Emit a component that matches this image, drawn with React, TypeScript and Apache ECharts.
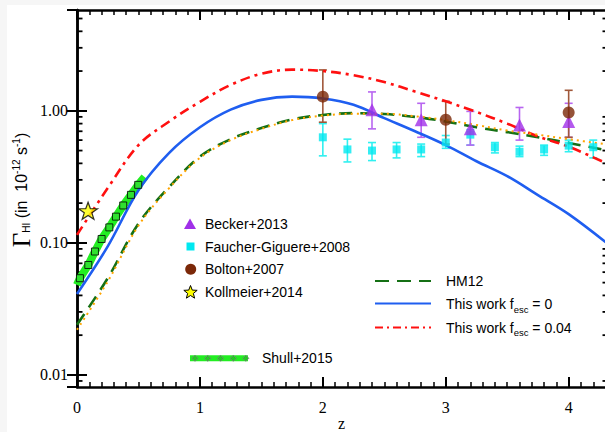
import React, { useEffect, useRef } from "react";
import * as echarts from "echarts";

// ---------- data ----------
const zGrid = [0, 0.25, 0.5, 0.75, 1.0, 1.25, 1.5, 1.75, 2.0, 2.25, 2.5, 2.75, 3.0, 3.25, 3.5, 3.75, 4.0, 4.32];
const hm12 = [0.024, 0.054, 0.14, 0.265, 0.45, 0.61, 0.74, 0.86, 0.93, 0.96, 0.945, 0.9, 0.83, 0.75, 0.69, 0.63, 0.57, 0.5];
const hm12Dotted = [0.022, 0.051, 0.135, 0.26, 0.44, 0.6, 0.73, 0.85, 0.92, 0.95, 0.95, 0.91, 0.85, 0.78, 0.71, 0.66, 0.61, 0.555];
const fesc0 = [0.041, 0.094, 0.25, 0.48, 0.75, 1.02, 1.21, 1.28, 1.24, 1.11, 0.88, 0.7, 0.55, 0.415, 0.32, 0.23, 0.165, 0.098];
const fesc004 = [0.115, 0.26, 0.55, 0.83, 1.17, 1.57, 1.91, 2.05, 2.0, 1.86, 1.65, 1.4, 1.18, 0.98, 0.8, 0.64, 0.535, 0.395];

const beckerZ = [2.4, 2.8, 3.2, 3.6, 4.0];
const beckerG = [1.02, 0.855, 0.73, 0.78, 0.83];
const beckerLo = [0.73, 0.63, 0.55, 0.6, 0.63];
const beckerHi = [1.39, 1.14, 0.99, 1.06, 1.14];

const faucherZ = [2.0, 2.2, 2.4, 2.6, 2.8, 3.0, 3.2, 3.4, 3.6, 3.8, 4.0, 4.2];
const faucherG = [0.63, 0.51, 0.5, 0.51, 0.51, 0.575, 0.66, 0.53, 0.49, 0.51, 0.545, 0.53];
const faucherLo = [0.456, 0.41, 0.42, 0.44, 0.45, 0.52, 0.55, 0.48, 0.45, 0.46, 0.49, 0.44];
const faucherHi = [0.8, 0.61, 0.575, 0.575, 0.56, 0.65, 0.72, 0.575, 0.54, 0.55, 0.6, 0.6];

const boltonZ = [2.0, 3.0, 4.0];
const boltonG = [1.28, 0.855, 0.97];
const boltonLo = [0.82, 0.56, 0.63];
const boltonHi = [2.04, 1.18, 1.43];

const kollmeierZ = [0.09];
const kollmeierG = [0.175];

const shullBandZ = [0, 0.024, 0.092, 0.146, 0.2, 0.263, 0.317, 0.376, 0.439, 0.498, 0.55];
const shullBandG = [0.048, 0.054, 0.068, 0.086, 0.107, 0.131, 0.158, 0.192, 0.231, 0.275, 0.315];
const shullZ = [0.024, 0.092, 0.146, 0.2, 0.263, 0.317, 0.376, 0.439, 0.498];
const shullG = [0.054, 0.068, 0.086, 0.107, 0.131, 0.158, 0.192, 0.231, 0.275];

const X_MIN = 0;
const X_MAX = 4.32;
const Y_MIN = 0.0081;
const Y_MAX = 5.8;
const yMinorTicks = [0.009, 0.02, 0.03, 0.04, 0.05, 0.06, 0.07, 0.08, 0.09, 0.2, 0.3, 0.4, 0.5, 0.6, 0.7, 0.8, 0.9, 2, 3, 4, 5];

// ---------- helpers ----------
const SERIF = "'Liberation Serif', 'Times New Roman', serif";
const SANS = "'Liberation Sans', Arial, sans-serif";

function starPts(cx: number, cy: number, R: number, r: number): number[][] {
  const pts: number[][] = [];
  for (let i = 0; i < 10; i++) {
    const a = -Math.PI / 2 + (i * Math.PI) / 5;
    const rad = i % 2 === 0 ? R : r;
    pts.push([cx + rad * Math.cos(a), cy + rad * Math.sin(a)]);
  }
  return pts;
}
const starPath =
  "path://" +
  starPts(0, 0, 10, 4)
    .map((p, i) => (i === 0 ? "M" : "L") + p[0].toFixed(3) + " " + p[1].toFixed(3))
    .join(" ") +
  " Z";

const zip = (xs: number[], ys: number[]) => xs.map((x, i) => [x, ys[i]]);
const zip3 = (xs: number[], a: number[], b: number[]) => xs.map((x, i) => [x, a[i], b[i]]);

function errorBarSeries(name: string, xs: number[], lo: number[], hi: number[], color: string) {
  return {
    name,
    type: "custom",
    silent: true,
    z: 3,
    data: zip3(xs, lo, hi),
    encode: { x: 0, y: [1, 2] },
    renderItem: (params: any, api: any) => {
      const x = api.value(0);
      const pLo = api.coord([x, api.value(1)]);
      const pHi = api.coord([x, api.value(2)]);
      const cap = 4;
      const st = { stroke: color, lineWidth: 1.6 };
      return {
        type: "group",
        children: [
          { type: "line", shape: { x1: pLo[0], y1: pLo[1], x2: pHi[0], y2: pHi[1] }, style: st },
          { type: "line", shape: { x1: pLo[0] - cap, y1: pLo[1], x2: pLo[0] + cap, y2: pLo[1] }, style: st },
          { type: "line", shape: { x1: pHi[0] - cap, y1: pHi[1], x2: pHi[0] + cap, y2: pHi[1] }, style: st },
        ],
      };
    },
  };
}

function lineSeries(name: string, ys: number[], color: string, width: number, type: any, z: number) {
  return {
    name,
    type: "line",
    data: zip(zGrid, ys),
    smooth: 0.35,
    showSymbol: false,
    symbol: "none",
    z,
    lineStyle: { color, width, type },
  };
}

export default function App() {
  const ref = useRef<HTMLDivElement>(null);
  useEffect(() => {
    if (!ref.current) return;
    const chart = echarts.init(ref.current, undefined, { renderer: "svg" });

    const axisLine = { show: true, lineStyle: { color: "#000", width: 2.5 } };
    const tickStyle = { color: "#000", width: 2 };
    const xLabelFmt = (v: number) => (Math.abs(v - Math.round(v)) < 1e-9 ? String(Math.round(v)) : "");
    const yLabelFmt = (v: number) => {
      const l = Math.log10(v);
      return Math.abs(l - Math.round(l)) < 1e-6 ? v.toFixed(2) : "";
    };

    const legendText = (x: number, y: number, text: string, rich?: any) => ({
      type: "text",
      x,
      y,
      silent: true,
      style: {
        text,
        fill: "#000",
        fontFamily: SANS,
        fontSize: 14,
        verticalAlign: "middle",
        align: "left",
        rich,
      },
    });

    const fescRich = {
      m: { fontFamily: SANS, fontSize: 14, lineHeight: 20, verticalAlign: "middle", fill: "#000" },
      sub: { fontFamily: SANS, fontSize: 9.5, lineHeight: 20, verticalAlign: "bottom", fill: "#000" },
    };

    const legendStar = starPts(190.5, 292.5, 7, 3);
    const shullDiamonds = [195, 207.7, 220.5, 233.3, 245.8].map((cx) => ({
      type: "polygon",
      silent: true,
      shape: { points: [[cx, 355.3], [cx + 3, 358.3], [cx, 361.3], [cx - 3, 358.3]] },
      style: { fill: "#22cc22", stroke: "#777", lineWidth: 0.8 },
      z: 20,
    }));

    const option: any = {
      animation: false,
      backgroundColor: "#f6f6f6",
      grid: { left: 77, top: 10, width: 531, height: 377, containLabel: false, outerBoundsMode: "none" },
      xAxis: [
        {
          type: "value",
          position: "bottom",
          min: X_MIN,
          max: X_MAX,
          interval: 1,
          axisLine,
          axisTick: { show: true, inside: true, length: 10, lineStyle: tickStyle },
          minorTick: { show: true, splitNumber: 10, length: 5, lineStyle: { color: "#000", width: 1.5 } },
          splitLine: { show: false },
          axisLabel: {
            formatter: xLabelFmt,
            showMaxLabel: false,
            fontFamily: SERIF,
            fontSize: 16,
            color: "#000",
            margin: 12,
          },
        },
        {
          type: "value",
          position: "top",
          min: X_MIN,
          max: X_MAX,
          interval: 1,
          axisLine,
          axisTick: { show: true, inside: true, length: 10, lineStyle: tickStyle },
          minorTick: { show: true, splitNumber: 10, length: 5, lineStyle: { color: "#000", width: 1.5 } },
          splitLine: { show: false },
          axisLabel: { show: false },
        },
      ],
      yAxis: [
        {
          type: "log",
          logBase: 10,
          position: "left",
          min: Y_MIN,
          max: Y_MAX,
          axisLine,
          axisTick: { show: true, inside: true, length: 10, lineStyle: tickStyle },
          splitLine: { show: false },
          axisLabel: {
            formatter: yLabelFmt,
            fontFamily: SERIF,
            fontSize: 16,
            color: "#000",
            margin: 9,
            showMinLabel: false,
            showMaxLabel: false,
          },
        },
        {
          type: "log",
          logBase: 10,
          position: "right",
          min: Y_MIN,
          max: Y_MAX,
          axisLine,
          axisTick: { show: true, inside: true, length: 10, lineStyle: tickStyle },
          splitLine: { show: false },
          axisLabel: { show: false },
        },
      ],
      series: [
        {
          name: "y minor ticks",
          type: "custom",
          silent: true,
          clip: false,
          z: 1,
          data: yMinorTicks.map((v) => [X_MIN, v]),
          encode: { x: 0, y: 1 },
          renderItem: (params: any, api: any) => {
            const v = api.value(1);
            const pL = api.coord([X_MIN, v]);
            const pR = api.coord([X_MAX, v]);
            const st = { stroke: "#000", lineWidth: 1.8 };
            return {
              type: "group",
              children: [
                { type: "line", shape: { x1: pL[0], y1: pL[1], x2: pL[0] + 5.5, y2: pL[1] }, style: st },
                { type: "line", shape: { x1: pR[0], y1: pR[1], x2: pR[0] - 5.5, y2: pR[1] }, style: st },
              ],
            };
          },
        },
        {
          name: "Shull+2015 band",
          type: "line",
          data: zip(shullBandZ, shullBandG),
          showSymbol: false,
          symbol: "none",
          z: 2,
          lineStyle: { color: "#22ee22", width: 8, cap: "butt" },
        },
        lineSeries("HM12", hm12, "#157015", 2.6, [13, 8], 3),
        lineSeries("HM12 dotted", hm12Dotted, "#ffa500", 2, [2, 4], 4),
        lineSeries("This work fesc = 0", fesc0, "#1f5ef0", 2.6, "solid", 3),
        lineSeries("This work fesc = 0.04", fesc004, "#ff1010", 2.6, [10, 5, 3, 5], 3),
        {
          name: "Shull+2015",
          type: "scatter",
          data: zip(shullZ, shullG),
          symbol: "rect",
          symbolSize: 7,
          z: 5,
          itemStyle: { color: "#33dd33", borderColor: "#000", borderWidth: 1 },
        },
        errorBarSeries("Faucher err", faucherZ, faucherLo, faucherHi, "#30f0f0"),
        errorBarSeries("Becker err", beckerZ, beckerLo, beckerHi, "#b866f0"),
        errorBarSeries("Bolton err", boltonZ, boltonLo, boltonHi, "#a0583a"),
        {
          name: "Faucher-Giguere+2008",
          type: "scatter",
          data: zip(faucherZ, faucherG),
          symbol: "rect",
          symbolSize: 8,
          z: 6,
          itemStyle: { color: "#00e8f0" },
        },
        {
          name: "Becker+2013",
          type: "scatter",
          data: zip(beckerZ, beckerG),
          symbol: "triangle",
          symbolSize: 13,
          z: 6,
          itemStyle: { color: "#a030e8" },
        },
        {
          name: "Bolton+2007",
          type: "scatter",
          data: zip(boltonZ, boltonG),
          symbol: "circle",
          symbolSize: 12,
          z: 6,
          itemStyle: { color: "#7b2808" },
        },
        {
          name: "Kollmeier+2014",
          type: "scatter",
          data: zip(kollmeierZ, kollmeierG),
          symbol: starPath,
          symbolSize: [19, 18],
          symbolKeepAspect: true,
          z: 7,
          itemStyle: { color: "#ffff00", borderColor: "#000", borderWidth: 1.2 },
        },
      ],
      graphic: [
        {
          type: "rect",
          silent: true,
          z: -100,
          shape: { x: 7, y: 5, width: 600, height: 430 },
          style: { fill: "#ffffff" },
        },
        // x axis title
        {
          type: "text",
          x: 341.5,
          y: 423,
          silent: true,
          style: {
            text: "z",
            align: "center",
            verticalAlign: "middle",
            fontFamily: SERIF,
            fontSize: 16,
            fill: "#000",
          },
        },
        // y axis title
        {
          type: "text",
          x: 21,
          y: 190,
          rotation: Math.PI / 2,
          silent: true,
          style: {
            text: "{g|Γ}{sub|HI}{m| (in  10}{sup|-12}{m| s}{sup|-1}{m|)}",
            align: "center",
            verticalAlign: "middle",
            rich: {
              g: { fontFamily: SERIF, fontSize: 25, lineHeight: 26, verticalAlign: "middle", fill: "#000" },
              sub: { fontFamily: SANS, fontSize: 10, lineHeight: 26, verticalAlign: "bottom", fill: "#000", padding: [0, 0, 3, 0] },
              sup: { fontFamily: SANS, fontSize: 10, lineHeight: 26, verticalAlign: "top", fill: "#000", padding: [3, 0, 0, 0] },
              m: { fontFamily: SANS, fontSize: 16, lineHeight: 26, verticalAlign: "middle", fill: "#000" },
            },
          },
        },
        // left legend
        {
          type: "polygon",
          silent: true,
          shape: { points: [[190, 218.5], [196, 229], [184, 229]] },
          style: { fill: "#a030e8" },
        },
        legendText(205, 224, "Becker+2013"),
        {
          type: "rect",
          silent: true,
          shape: { x: 186.5, y: 242.5, width: 8, height: 8 },
          style: { fill: "#00e8f0" },
        },
        legendText(205, 246.5, "Faucher-Giguere+2008"),
        {
          type: "circle",
          silent: true,
          shape: { cx: 190.7, cy: 269.3, r: 5.5 },
          style: { fill: "#7b2808" },
        },
        legendText(205, 269, "Bolton+2007"),
        {
          type: "polygon",
          silent: true,
          shape: { points: legendStar },
          style: { fill: "#ffff00", stroke: "#000", lineWidth: 1 },
        },
        legendText(205, 292, "Kollmeier+2014"),
        {
          type: "line",
          silent: true,
          shape: { x1: 190, y1: 358.3, x2: 248, y2: 358.3 },
          style: { stroke: "#22ee22", lineWidth: 6 },
        },
        ...shullDiamonds,
        legendText(262, 357.5, "Shull+2015"),
        // right legend
        {
          type: "line",
          silent: true,
          shape: { x1: 375, y1: 281, x2: 431, y2: 281 },
          style: { stroke: "#157015", lineWidth: 2, lineDash: [14, 8] },
        },
        legendText(446, 281, "HM12"),
        {
          type: "line",
          silent: true,
          shape: { x1: 375, y1: 303.5, x2: 431, y2: 303.5 },
          style: { stroke: "#1f5ef0", lineWidth: 2 },
        },
        legendText(446, 304, "{m|This work f}{sub|esc}{m| = 0}", fescRich),
        {
          type: "line",
          silent: true,
          shape: { x1: 375, y1: 327.5, x2: 431, y2: 327.5 },
          style: { stroke: "#ff1010", lineWidth: 2, lineDash: [8, 4, 2, 4] },
        },
        legendText(446, 327.5, "{m|This work f}{sub|esc}{m| = 0.04}", fescRich),
      ],
    };

    chart.setOption(option);
    return () => chart.dispose();
  }, []);

  return (
    <div
      ref={ref}
      style={{ position: "absolute", left: 0, top: 0, width: 605, height: 432 }}
    />
  );
}
